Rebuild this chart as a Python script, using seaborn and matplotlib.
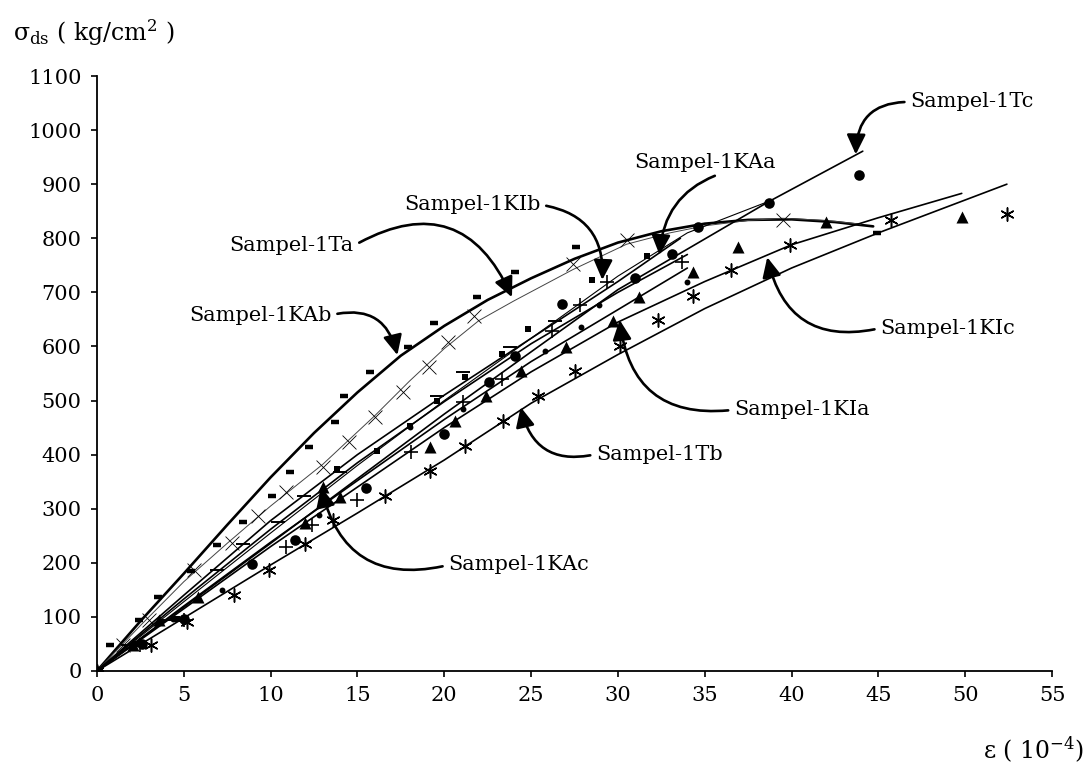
import pandas as pd
import matplotlib
matplotlib.use("Agg")
import matplotlib.pyplot as plt
import seaborn as sns

# measured points (eps in 1e-4, stress in kg/cm2)
kab_x = [0, 0.75, 2.4, 3.5, 5.4, 6.9, 8.4, 10.1, 11.1, 12.2, 13.7, 14.2, 15.7, 17.9, 19.4, 21.9, 24.1, 27.6, 44.9]
kab_y = [0, 48, 95, 137, 184, 232, 276, 323, 367, 414, 460, 508, 553, 599, 644, 692, 738, 783, 809]
ta_x = [0, 1.5, 3.0, 5.6, 7.8, 9.3, 10.9, 13.0, 14.5, 16.0, 17.6, 19.1, 20.2, 21.7, 27.4, 30.5, 39.5]
ta_y = [0, 48, 95, 187, 237, 286, 330, 377, 423, 469, 516, 562, 608, 657, 752, 796, 834]
kib_x = [0, 2.2, 4.6, 13.8, 16.1, 18.0, 19.6, 21.2, 23.3, 24.8, 28.5, 31.7]
kib_y = [0, 50, 97, 373, 407, 452, 499, 543, 586, 632, 722, 768]
kac_x = [0, 1.8, 3.9, 6.9, 8.4, 10.4, 11.9, 14.0, 19.6, 21.1, 23.8, 26.4]
kac_y = [0, 48, 95, 186, 234, 276, 323, 368, 508, 552, 599, 647]
tc_x = [0, 2.6, 5.0, 8.9, 11.4, 15.5, 20.0, 22.6, 24.1, 26.8, 31.0, 33.1, 34.6, 38.7, 43.9]
tc_y = [0, 50, 97, 197, 243, 339, 438, 534, 583, 679, 727, 770, 820, 866, 917]
kaa_x = [0, 2.0, 4.4, 7.2, 12.8, 18.0, 21.1, 25.8, 27.9, 28.9, 34.0]
kaa_y = [0, 48, 97, 150, 288, 451, 484, 592, 636, 677, 720]
kia_x = [0, 2.5, 5.0, 10.9, 12.4, 15.0, 18.1, 21.1, 23.3, 26.2, 27.8, 29.4, 33.7]
kia_y = [0, 48, 95, 230, 270, 317, 404, 497, 540, 629, 676, 720, 757]
kic_x = [0, 2.1, 3.6, 5.8, 12.0, 13.0, 14.0, 19.2, 20.6, 22.4, 24.4, 27.0, 29.7, 31.2, 34.3, 36.9, 42.0, 49.8]
kic_y = [0, 48, 95, 137, 274, 340, 321, 414, 462, 508, 555, 599, 647, 692, 738, 784, 831, 840]
tb_x = [0, 3.1, 5.2, 7.9, 9.9, 12.0, 13.6, 16.6, 19.2, 21.2, 23.4, 25.4, 27.5, 30.1, 32.3, 34.3, 36.5, 39.9, 45.7, 52.4]
tb_y = [0, 48, 91, 141, 187, 234, 280, 323, 370, 416, 462, 508, 555, 601, 649, 694, 742, 787, 833, 844]

# fitted curves
kab_lx = [0, 2.5, 5, 7.5, 10, 12.5, 15, 17.5, 20, 22.5, 25, 27.5, 30, 32.5, 35, 37.5, 40, 42.5, 44.7]
kab_ly = [0, 92, 180, 270, 358, 440, 515, 583, 638, 686, 726, 762, 792, 813, 827, 834, 835, 830, 822]
ta_lx = [0, 2.5, 5, 7.5, 10, 13, 16, 18, 20, 22, 24, 27.4, 30.5, 33, 35, 37.5, 39.5, 42, 44]
ta_ly = [0, 84, 165, 236, 305, 382, 472, 536, 596, 648, 684, 742, 789, 810, 823, 833, 837, 833, 826]
kib_lx = [0, 5, 10, 15, 20, 25, 30, 33.6]
kib_ly = [0, 140, 278, 400, 510, 615, 720, 800]
kac_lx = [0, 5, 10, 15, 20, 25, 30, 34]
kac_ly = [0, 133, 262, 385, 498, 605, 700, 770]
tc_lx = [0, 5, 10, 20, 30, 38.7, 44.1]
tc_ly = [0, 118, 236, 475, 705, 868, 961]
kaa_lx = [0, 5, 10, 15, 20, 25, 30, 34, 38.5]
kaa_ly = [0, 128, 255, 380, 500, 615, 730, 810, 866]
kia_lx = [0, 5, 10, 15, 20, 25, 30, 34]
kia_ly = [0, 120, 238, 352, 465, 572, 668, 745]
kic_lx = [0, 5, 10, 15, 20, 25, 30, 35, 40, 45, 49.8]
kic_ly = [0, 115, 230, 340, 450, 553, 645, 720, 788, 838, 883]
tb_lx = [0, 5, 10, 15, 20, 25, 30, 35, 40, 45, 52.4]
tb_ly = [0, 98, 196, 292, 390, 495, 585, 670, 745, 810, 900]

series = {
    "Sampel-1KAb": (kab_x, kab_y, kab_lx, kab_ly),
    "Sampel-1Ta": (ta_x, ta_y, ta_lx, ta_ly),
    "Sampel-1KIb": (kib_x, kib_y, kib_lx, kib_ly),
    "Sampel-1KAc": (kac_x, kac_y, kac_lx, kac_ly),
    "Sampel-1Tc": (tc_x, tc_y, tc_lx, tc_ly),
    "Sampel-1KAa": (kaa_x, kaa_y, kaa_lx, kaa_ly),
    "Sampel-1KIa": (kia_x, kia_y, kia_lx, kia_ly),
    "Sampel-1KIc": (kic_x, kic_y, kic_lx, kic_ly),
    "Sampel-1Tb": (tb_x, tb_y, tb_lx, tb_ly),
}

# marker, size, marker linewidth, curve linewidth
styles = {
    "Sampel-1KAb": ("_", 30, 3.2, 1.9),
    "Sampel-1Ta": ("x", 100, 0.6, 0.7),
    "Sampel-1KIb": ("s", 22, 0, 1.2),
    "Sampel-1KAc": ("_", 110, 1.4, 1.2),
    "Sampel-1Tc": ("o", 58, 0, 1.2),
    "Sampel-1KAa": ("o", 18, 0, 0.8),
    "Sampel-1KIa": ("+", 100, 1.2, 1.2),
    "Sampel-1KIc": ("^", 75, 0, 1.2),
    "Sampel-1Tb": ((6, 2, 0), 90, 1.1, 1.2),
}

# label text position, arrow tip, arrow start on text box, arc
labels = {
    "Sampel-1Tc": ((50.4, 1052), (43.7, 955), (0, 0.5), 0.5),
    "Sampel-1KAa": ((35.0, 941), (32.4, 769), (0.66, 0), 0.35),
    "Sampel-1KIb": ((21.6, 862), (29.1, 723), (1, 0.5), -0.45),
    "Sampel-1Ta": ((11.2, 786), (23.9, 691), (1, 0.5), -0.55),
    "Sampel-1KAb": ((9.4, 658), (17.3, 584), (1, 0.5), -0.5),
    "Sampel-1KIc": ((49.0, 634), (38.6, 765), (0, 0.5), -0.5),
    "Sampel-1KIa": ((40.6, 483), (30.1, 649), (0, 0.5), -0.5),
    "Sampel-1Tb": ((32.4, 401), (24.4, 488), (0, 0.5), -0.5),
    "Sampel-1KAc": ((24.3, 196), (12.9, 340), (0, 0.5), -0.5),
}

sns.set_style("ticks")
plt.rcParams["font.family"] = ["DejaVu Serif"]
plt.rcParams["mathtext.fontset"] = "dejavuserif"
plt.rcParams["text.color"] = "black"
plt.rcParams["xtick.color"] = "black"
plt.rcParams["ytick.color"] = "black"
plt.rcParams["axes.edgecolor"] = "black"

fig = plt.figure(figsize=(10.92, 7.67), dpi=100)
ax = fig.add_axes([0.0888, 0.1252, 0.8746, 0.7757])

for name, (mx, my, lx, ly) in series.items():
    marker, size, mlw, clw = styles[name]
    line_color = "#444444" if name == "Sampel-1Ta" else "black"
    line_df = pd.DataFrame({"eps": lx, "sigma": ly})
    sns.lineplot(data=line_df, x="eps", y="sigma", sort=False, estimator=None,
                 color=line_color, linewidth=clw, ax=ax)
    pts = pd.DataFrame({"eps": mx, "sigma": my})
    sns.scatterplot(data=pts, x="eps", y="sigma", marker=marker, s=size,
                    color="black", edgecolor="black", linewidth=mlw, ax=ax, zorder=3)

for name, (txt_pos, tip, rel, rad) in labels.items():
    ax.annotate(name, xy=tip, xytext=txt_pos, textcoords="data",
                ha="center", va="center", fontsize=15, color="black",
                arrowprops=dict(arrowstyle="-|>,head_length=0.8,head_width=0.38",
                                connectionstyle=f"arc3,rad={rad}", color="black",
                                lw=1.9, shrinkA=2, shrinkB=0, relpos=rel))

ax.set_xlim(0, 55)
ax.set_ylim(0, 1100)
ax.set_xticks(range(0, 56, 5))
ax.set_yticks(range(0, 1101, 100))
ax.tick_params(axis="both", labelsize=15, length=4, width=1.2, pad=7,
               color="black", labelcolor="black")
ax.set_xlabel("")
ax.set_ylabel("")
sns.despine(ax=ax)
for sp in ["left", "bottom"]:
    ax.spines[sp].set_linewidth(1.3)
    ax.spines[sp].set_color("black")

fig.text(0.012, 1 - 33 / 767, "σ$_{\\rm ds}$ ( kg/cm$^2$ )", fontsize=17, va="center")
fig.text(0.993, 1 - 750 / 767, "ε ( 10$^{-4}$)", fontsize=17, va="center", ha="right")

fig.savefig("out.png", dpi=100)
